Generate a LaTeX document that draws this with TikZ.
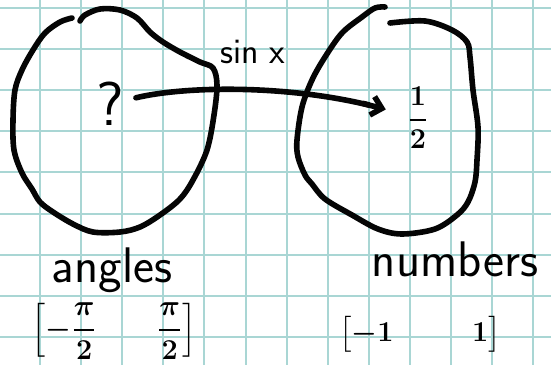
\documentclass[tikz,border=0pt]{standalone}
\usepackage{amsmath,amssymb}
\usepackage{tikz}
\usetikzlibrary{arrows.meta}
\definecolor{Grid}{HTML}{A9D6D4}
\definecolor{Pen}{HTML}{050505}
\tikzset{
  >=Latex,
  pen/.style={draw=Pen,line width=2.8pt,line cap=round,line join=round},
  blob/.style={pen,smooth,tension=.55},
  map/.style={pen,-{Butt Cap[] Straight Barb[length=5pt,width=9.5pt,sep=4pt]}},
  gridline/.style={draw=Grid,line width=1pt},
  word/.style={font=\sffamily\fontsize{25}{27}\selectfont,inner sep=1pt},
  small/.style={font=\sffamily\fontsize{18}{20}\selectfont,inner sep=1pt},
  qmark/.style={font=\sffamily\fontsize{31}{33}\selectfont,inner sep=2pt},
  frac/.style={font=\boldmath\fontsize{15}{17}\selectfont,inner sep=1pt}
}

\begin{document}
\begin{tikzpicture}[x=.5pt,y=-.5pt]
  \fill[white] (0,0) rectangle (551,365);
  \useasboundingbox (0,0) rectangle (551,365);
  % squared paper
  \foreach \gx in {0,...,12}
    \draw[gridline] ({40+41.1*\gx},0)--({40+41.1*\gx},365);
  \foreach \gy in {0,...,8}
    \draw[gridline] (0,{8+41.1*\gy})--(551,{8+41.1*\gy});

  % the two sets
  \draw[blob] plot coordinates {(72,18) (60,22) (45,33) (33,50) (22,70) (15,90)
     (13,120) (14,150) (22,173) (32,189) (40,202) (53,212) (73,224) (93,232)
     (120,232) (140,227) (160,215) (180,199) (193,180) (207,150) (214,115)
     (217,85) (213,68) (200,62) (180,52) (163,42) (150,32) (137,18) (120,10)
     (100,9) (85,15) (80,21)};
  \draw[blob] plot coordinates {(385,7) (375,8) (362,17) (342,33) (325,57)
     (312,80) (302,107) (297,140) (298,157) (305,175) (312,184) (325,199)
     (352,215) (378,229) (402,234) (435,229) (457,215) (468,202) (475,182)
     (477,160) (478,127) (473,90) (470,57) (467,42) (452,30) (425,21) (390,23)};

  \node[qmark] (q)    at (110,104) {?};
  \node[frac]  (half) at (418,118) {$\dfrac{1}{2}$};

  \draw[map,shorten <=4pt,shorten >=6pt] (q) .. controls (185,86) and (290,84) .. (half)
     node[small,pos=.5,above=11pt,xshift=4pt] {sin x};

  \node[word] (angles)  at (112,270) {angles};
  \node[word] (numbers) at (455,259) {numbers};

  \node[frac] (angrange) at (114,331) {$\left[-\dfrac{\pi}{2}\qquad\dfrac{\pi}{2}\right]$};
  \node[frac] (numrange) at (420,334) {$\bigl[-1\qquad\;\; 1\bigr]$};
\end{tikzpicture}
\end{document}
